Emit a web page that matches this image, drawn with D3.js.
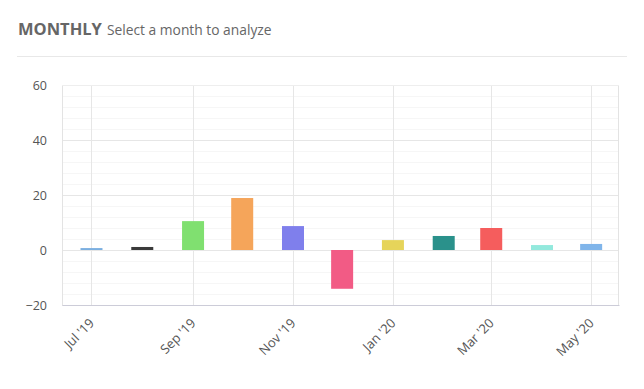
<!DOCTYPE html>
<html>
<head>
<meta charset="utf-8">
<script src="https://cdn.jsdelivr.net/npm/d3@7"></script>
<style>
  body { margin: 0; background: #fff; font-family: "Open Sans", "Noto Sans", sans-serif; }
</style>
</head>
<body>
<div id="chart"></div>
<script>
// monthly values
var months = ["2019-07", "2019-08", "2019-09", "2019-10", "2019-11", "2019-12",
              "2020-01", "2020-02", "2020-03", "2020-04", "2020-05"];
var values = [0.7, 1.1, 10.5, 18.9, 8.7, -14.1, 3.6, 5.1, 8.0, 1.8, 2.2];
var colors = ["#7bafe0", "#3a3a3a", "#80e070", "#f5a55a", "#7f7fec", "#f25b85",
              "#e6d45a", "#2a918b", "#f55d5d", "#93e9dd", "#80b5ea"];
var yTicks = [-20, 0, 20, 40, 60];

var parse = d3.timeParse("%Y-%m");
var data = months.map(function(m, i) {
  return {date: parse(m), value: values[i], color: colors[i]};
});

var W = 644, H = 389;
var margin = {top: 85, right: 25, bottom: 84, left: 62},
    width = W - margin.left - margin.right,
    height = H - margin.top - margin.bottom;

var svg = d3.select("#chart").append("svg")
  .attr("width", W)
  .attr("height", H);

// header
var head = svg.append("text").attr("x", 18).attr("y", 35).attr("fill", "#666");
head.append("tspan").attr("font-size", 16.5).attr("font-weight", "bold").text("MONTHLY");
head.append("tspan").attr("dx", 5).attr("font-size", 13.8).text("Select a month to analyze");
svg.append("line")
  .attr("x1", 17).attr("x2", 627).attr("y1", 56.5).attr("y2", 56.5)
  .attr("stroke", "#e8e8e8");

var g = svg.append("g")
  .attr("transform", "translate(" + margin.left + "," + margin.top + ")");

var x = d3.scaleTime()
  .domain([new Date(2019, 5, 13), new Date(2020, 4, 18)])
  .range([0, width]);

var y = d3.scaleLinear()
  .domain([-20, 60])
  .range([height, 0]);

// minor grid
g.append("g").selectAll("line")
  .data(d3.range(-20, 61, 4).filter(function(v) { return v % 20 != 0; }))
  .enter().append("line")
  .attr("x1", 0).attr("x2", width)
  .attr("y1", function(d) { return Math.round(y(d)) + 0.5; })
  .attr("y2", function(d) { return Math.round(y(d)) + 0.5; })
  .attr("stroke", "#f6f6f6");

// major grid
g.append("g").selectAll("line")
  .data(yTicks)
  .enter().append("line")
  .attr("x1", 0).attr("x2", width)
  .attr("y1", function(d) { return Math.round(y(d)) + 0.5; })
  .attr("y2", function(d) { return Math.round(y(d)) + 0.5; })
  .attr("stroke", "#e6e6e6");

var xTicks = x.ticks(d3.timeMonth.every(2));
g.append("g").selectAll("line")
  .data(xTicks)
  .enter().append("line")
  .attr("x1", function(d) { return Math.round(x(d)) + 0.5; })
  .attr("x2", function(d) { return Math.round(x(d)) + 0.5; })
  .attr("y1", 0).attr("y2", height)
  .attr("stroke", "#e6e6e6");

// border
g.append("line").attr("x1", 0.5).attr("x2", 0.5).attr("y1", 0).attr("y2", height).attr("stroke", "#e3e3e3");
g.append("line").attr("x1", width - 0.5).attr("x2", width - 0.5).attr("y1", 0).attr("y2", height).attr("stroke", "#e3e3e3");
g.append("line").attr("x1", 0).attr("x2", width).attr("y1", 0.5).attr("y2", 0.5).attr("stroke", "#eeeeee");

// bars
var bw = 22;
g.selectAll("rect.bar")
  .data(data)
  .enter().append("rect")
  .attr("class", "bar")
  .attr("x", function(d) { return x(d.date) - bw / 2; })
  .attr("y", function(d) { return y(Math.max(0, d.value)); })
  .attr("width", bw)
  .attr("height", function(d) { return Math.abs(y(d.value) - y(0)); })
  .attr("fill", function(d) { return d.color; });

// y axis
var yAxis = g.append("g")
  .call(d3.axisLeft(y).tickValues(yTicks).tickSize(0).tickPadding(15));
yAxis.select(".domain").remove();
yAxis.selectAll("text").attr("font-size", 12.5).attr("fill", "#555")
  .attr("font-family", "Open Sans, sans-serif");

// x axis
var xAxis = g.append("g")
  .attr("transform", "translate(0," + height + ")")
  .call(d3.axisBottom(x).tickValues(xTicks).tickSize(0)
    .tickFormat(d3.timeFormat("%b '%y")));
xAxis.select(".domain").attr("stroke", "#ccccd8");
xAxis.selectAll("text")
  .attr("font-size", 13).attr("fill", "#555")
  .attr("font-family", "Open Sans, sans-serif")
  .attr("text-anchor", "end")
  .attr("dy", null).attr("y", 0)
  .attr("transform", "translate(3,19) rotate(-45)");
</script>
</body>
</html>
